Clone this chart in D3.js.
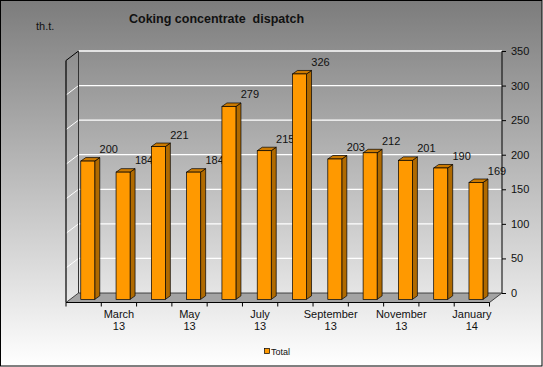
<!DOCTYPE html>
<html><head><meta charset="utf-8">
<script src="https://cdn.jsdelivr.net/npm/d3@7"></script>
<style>html,body{margin:0;padding:0;background:#fff}svg{display:block}</style>
</head><body>
<script>
const months = ["February 13","March 13","April 13","May 13","June 13","July 13","August 13","September 13","October 13","November 13","December 13","January 14"];
const values = [200,184,221,184,279,215,326,203,212,201,190,169];
const yTicks = [0,50,100,150,200,250,300,350];
const seriesName = "Total";
const title = "Coking concentrate  dispatch";
const unit = "th.t.";

const W=543,H=367;
const svg=d3.select("body").append("svg").attr("width",W).attr("height",H).style("font-family","Arial, 'Liberation Sans', sans-serif");
const defs=svg.append("defs");
const g=defs.append("linearGradient").attr("id","bg").attr("x1",0).attr("y1",0).attr("x2",0).attr("y2",1);
g.append("stop").attr("offset","0%").attr("stop-color","#7c7c7c");
g.append("stop").attr("offset","100%").attr("stop-color","#ffffff");
svg.append("rect").attr("x",0.5).attr("y",0.5).attr("width",W-1.5).attr("height",H-1.5).attr("fill","url(#bg)").attr("stroke","#000").attr("stroke-width",1);

// geometry
const backL=78.5, backR=502, DX=-12.5, DY=9.5;
const y=d3.scaleLinear().domain([0,350]).range([293,51]);
const f=0.33;

// left side wall gridlines
yTicks.forEach(t=>{
  if(t===0) return;
  svg.append("line").attr("x1",backL+DX).attr("y1",y(t)+DY).attr("x2",backL).attr("y2",y(t)).attr("stroke",t===350?"#000":"#fff").attr("stroke-width",1);
});
// back wall gridlines
svg.selectAll(".grid").data(yTicks.filter(t=>t>0)).enter().append("line")
  .attr("x1",backL).attr("x2",backR).attr("y1",d=>y(d)).attr("y2",d=>y(d))
  .attr("stroke","#fff").attr("stroke-width",1.3);
svg.append("line").attr("x1",backL).attr("x2",backL).attr("y1",y(350)).attr("y2",y(0)).attr("stroke","#333").attr("stroke-width",1);
svg.append("line").attr("x1",backL+DX).attr("x2",backL+DX).attr("y1",y(350)+DY).attr("y2",y(0)+DY).attr("stroke","#000").attr("stroke-width",1.2);

// floor
const floor=[[backL,y(0)],[backR,y(0)],[backR+DX,y(0)+DY],[backL+DX,y(0)+DY]];
svg.append("path").attr("d","M"+floor.map(p=>p.join(",")).join("L")+"Z").attr("fill","#a3a3a3").attr("stroke","#222").attr("stroke-width",0.8);

// right axis
svg.append("line").attr("x1",backR).attr("x2",backR).attr("y1",y(350)).attr("y2",y(0)).attr("stroke","#000").attr("stroke-width",1);
const ax=svg.append("g").attr("transform",`translate(${backR},0)`).call(d3.axisRight(y).tickValues(yTicks).tickSize(4).tickPadding(5));
ax.select(".domain").remove();
ax.selectAll("line").attr("stroke","#000");
ax.selectAll("text").attr("font-size",11).attr("fill","#111").attr("font-family","Arial, 'Liberation Sans', sans-serif");

// bottom axis (front edge)
const xFront=d3.scaleBand().domain(months).range([backL+DX,backR+DX]);
const fy=y(0)+DY;
svg.append("line").attr("x1",backL+DX).attr("x2",backR+DX).attr("y1",fy).attr("y2",fy).attr("stroke","#000").attr("stroke-width",1.2);
const bounds=months.map(m=>xFront(m)).concat([xFront(months[months.length-1])+xFront.bandwidth()]);
svg.selectAll(".xt").data(bounds).enter().append("line").attr("x1",d=>d).attr("x2",d=>d).attr("y1",fy).attr("y2",fy+4).attr("stroke","#000");
months.forEach((m,i)=>{
  if(i%2===0) return;
  const parts=m.split(" ");
  const cx=xFront(m)+xFront.bandwidth()/2;
  const t=svg.append("text").attr("x",cx).attr("text-anchor","middle").attr("font-size",11).attr("fill","#111");
  t.append("tspan").attr("x",cx).attr("y",318).text(parts[0]);
  t.append("tspan").attr("x",cx).attr("y",330).text(parts[1]);
});

// bars
const bw=14, sdx=5, sdy=-3.5;
months.forEach((m,i)=>{
  const v=values[i];
  const cx=xFront(m)+xFront.bandwidth()/2 - DX*f;
  const base=y(0)+DY*(1-f);
  const top=base-(y(0)-y(v));
  const x0=cx-bw/2, x1=cx+bw/2;
  svg.append("path").attr("d",`M${x1},${base}L${x1+sdx},${base+sdy}L${x1+sdx},${top+sdy}L${x1},${top}Z`).attr("fill","#b06a00").attr("stroke","#000").attr("stroke-width",0.7);
  svg.append("path").attr("d",`M${x0},${top}L${x0+sdx},${top+sdy}L${x1+sdx},${top+sdy}L${x1},${top}Z`).attr("fill","#cc7a00").attr("stroke","#000").attr("stroke-width",0.7);
  svg.append("rect").attr("x",x0).attr("y",top).attr("width",bw).attr("height",base-top).attr("fill","#ff9900").attr("stroke","#000").attr("stroke-width",0.7);
  svg.append("text").attr("x",cx+21).attr("y",top-8).attr("text-anchor","middle").attr("font-size",11).attr("fill","#111").text(v);
});

// title
svg.append("text").attr("x",216.5).attr("y",23).attr("text-anchor","middle").attr("font-size",12.5).attr("font-weight","bold").attr("fill","#111").style("white-space","pre").text(title);
svg.append("text").attr("x",36).attr("y",30).attr("font-size",11).attr("fill","#111").text(unit);

// legend
svg.append("rect").attr("x",264.5).attr("y",348.5).attr("width",5).attr("height",5).attr("fill","#ff9900").attr("stroke","#000").attr("stroke-width",0.7);
svg.append("text").attr("x",271).attr("y",355).attr("font-size",9).attr("fill","#111").text(seriesName);
</script>
</body></html>
